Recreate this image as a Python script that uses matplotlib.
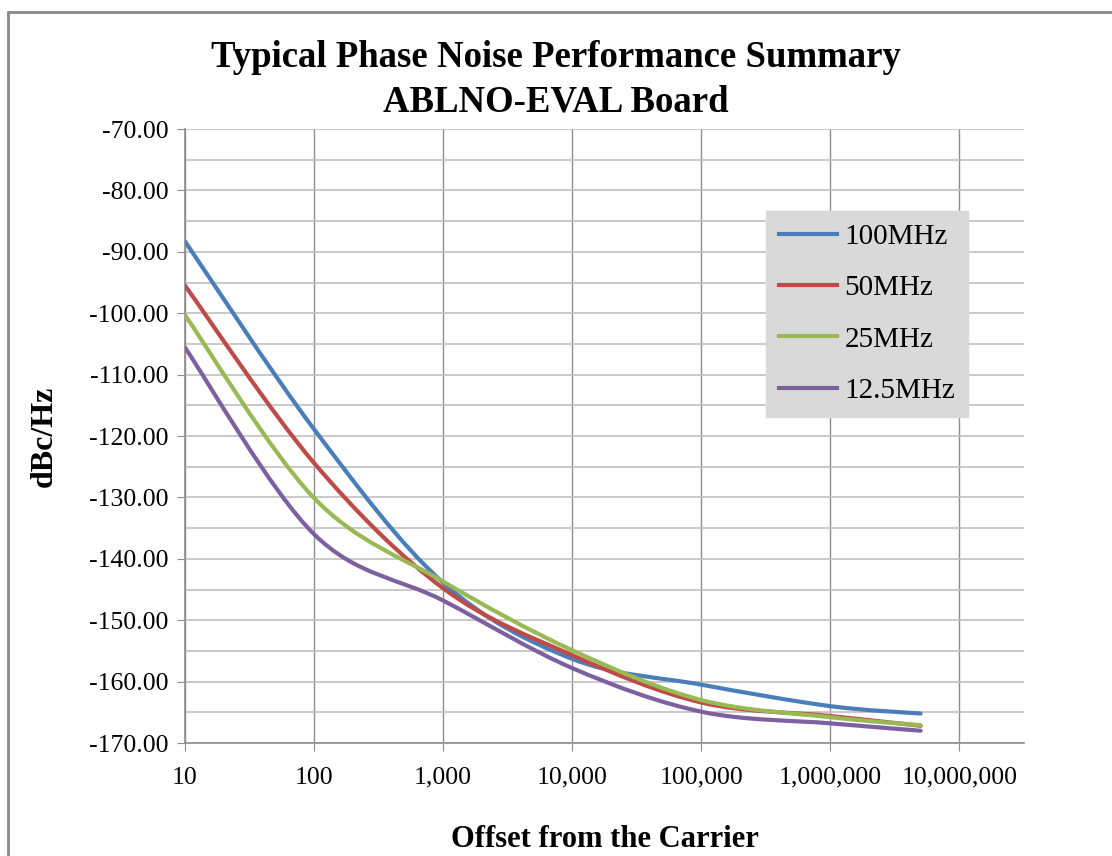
import numpy as np
import matplotlib
matplotlib.use('Agg')
import matplotlib.pyplot as plt
from matplotlib.path import Path
from matplotlib.patches import PathPatch, Rectangle
from matplotlib.lines import Line2D
from matplotlib.ticker import FixedLocator, FuncFormatter, MultipleLocator

plt.rcParams['font.family'] = ['Liberation Serif', 'DejaVu Serif']
plt.rcParams['axes.unicode_minus'] = False

# Offsets (Hz) and phase noise (dBc/Hz)
offsets = [10, 100, 1000, 10000, 100000, 1000000, 5000000]
pn_100 = [-88.3, -118.9, -143.9, -156.3, -160.5, -164.0, -165.2]
pn_50 = [-95.5, -124.4, -144.8, -155.7, -163.4, -165.6, -167.2]
pn_25 = [-100.3, -130.1, -143.7, -154.9, -163.0, -165.8, -167.1]
pn_12 = [-105.6, -136.0, -146.8, -157.8, -164.9, -166.8, -168.0]

labels = ['100MHz', '50MHz', '25MHz', '12.5MHz']
colors = ['#4A7EBB', '#BE4B48', '#98B954', '#7D60A0']
x_ticks = [10, 100, 1000, 10000, 100000, 1000000, 10000000]


def smooth_path(xs, ys):
    # Excel style smoothed line: cubic bezier through the points, built in log-x space
    lx = np.log10(xs)
    pts = np.column_stack([lx, ys])
    n = len(pts)
    verts = [pts[0]]
    codes = [Path.MOVETO]
    for i in range(n - 1):
        p0 = pts[i - 1] if i > 0 else pts[i]
        p1 = pts[i]
        p2 = pts[i + 1]
        p3 = pts[i + 2] if i + 2 < n else pts[i + 1]
        c1 = p1 + (p2 - p0) / 6.0
        c2 = p2 - (p3 - p1) / 6.0
        verts += [c1, c2, p2]
        codes += [Path.CURVE4] * 3
    verts = np.array(verts)
    verts[:, 0] = 10 ** verts[:, 0]
    return Path(verts, codes)


fig = plt.figure(figsize=(11.12, 8.56), dpi=100)
fig.patches.append(Rectangle((8 / 1112, -0.1), 1.2, 1 - 12 / 856 + 0.1, transform=fig.transFigure,
                             fill=False, edgecolor='#888888', linewidth=2))

ax = fig.add_axes([185 / 1112, 1 - 743 / 856, (1024 - 185) / 1112, (743 - 129) / 856])

for ys, lab, col in zip([pn_100, pn_50, pn_25, pn_12], labels, colors):
    ax.add_patch(PathPatch(smooth_path(offsets, ys), fill=False, edgecolor=col,
                           linewidth=3, capstyle='round', zorder=3))

ax.set_xscale('log')
ax.set_xlim(10, 10 ** 7.5)
ax.set_ylim(-170, -70)

ax.xaxis.set_major_locator(FixedLocator(x_ticks))
ax.xaxis.set_minor_locator(FixedLocator([]))
ax.xaxis.set_major_formatter(FuncFormatter(lambda v, p: '{:,.0f}'.format(v)))
ax.yaxis.set_major_locator(MultipleLocator(10))
ax.yaxis.set_minor_locator(MultipleLocator(5))
ax.yaxis.set_major_formatter(FuncFormatter(lambda v, p: '%.2f' % v))

ax.grid(True, axis='x', which='major', color='#8C8C8C', linewidth=1)
ax.grid(True, axis='y', which='both', color='#C0C0C0', linewidth=1.2)
ax.set_axisbelow(True)

for s in ['top', 'right']:
    ax.spines[s].set_visible(False)
for s in ['left', 'bottom']:
    ax.spines[s].set_color('#8C8C8C')
    ax.spines[s].set_linewidth(1.2)

ax.tick_params(axis='both', which='major', direction='out', length=6, color='#8C8C8C',
               labelsize=18.5, pad=6)
ax.tick_params(axis='x', which='major', pad=11)
ax.tick_params(axis='y', which='minor', length=0)

ax.set_ylabel('dBc/Hz', fontsize=23, fontweight='bold', labelpad=22)
ax.set_xlabel('Offset from the Carrier', fontsize=22, fontweight='bold', labelpad=26)

fig.text(0.5, 1 - 80 / 856, 'Typical Phase Noise Performance Summary\nABLNO-EVAL Board',
         ha='center', va='center', fontsize=26.5, fontweight='bold', linespacing=1.35)

handles = [Line2D([], [], color=c, linewidth=3) for c in colors]
leg = ax.legend(handles, labels, loc='upper left', bbox_to_anchor=(0.692, 0.867),
                fontsize=21, frameon=True, fancybox=False, handlelength=2.0,
                labelspacing=0.85, handletextpad=0.25, borderpad=0.45, borderaxespad=0)
leg.get_frame().set_facecolor('#D9D9D9')
leg.get_frame().set_edgecolor('#D9D9D9')
leg.get_frame().set_alpha(1)

fig.savefig('out.png', dpi=100)
